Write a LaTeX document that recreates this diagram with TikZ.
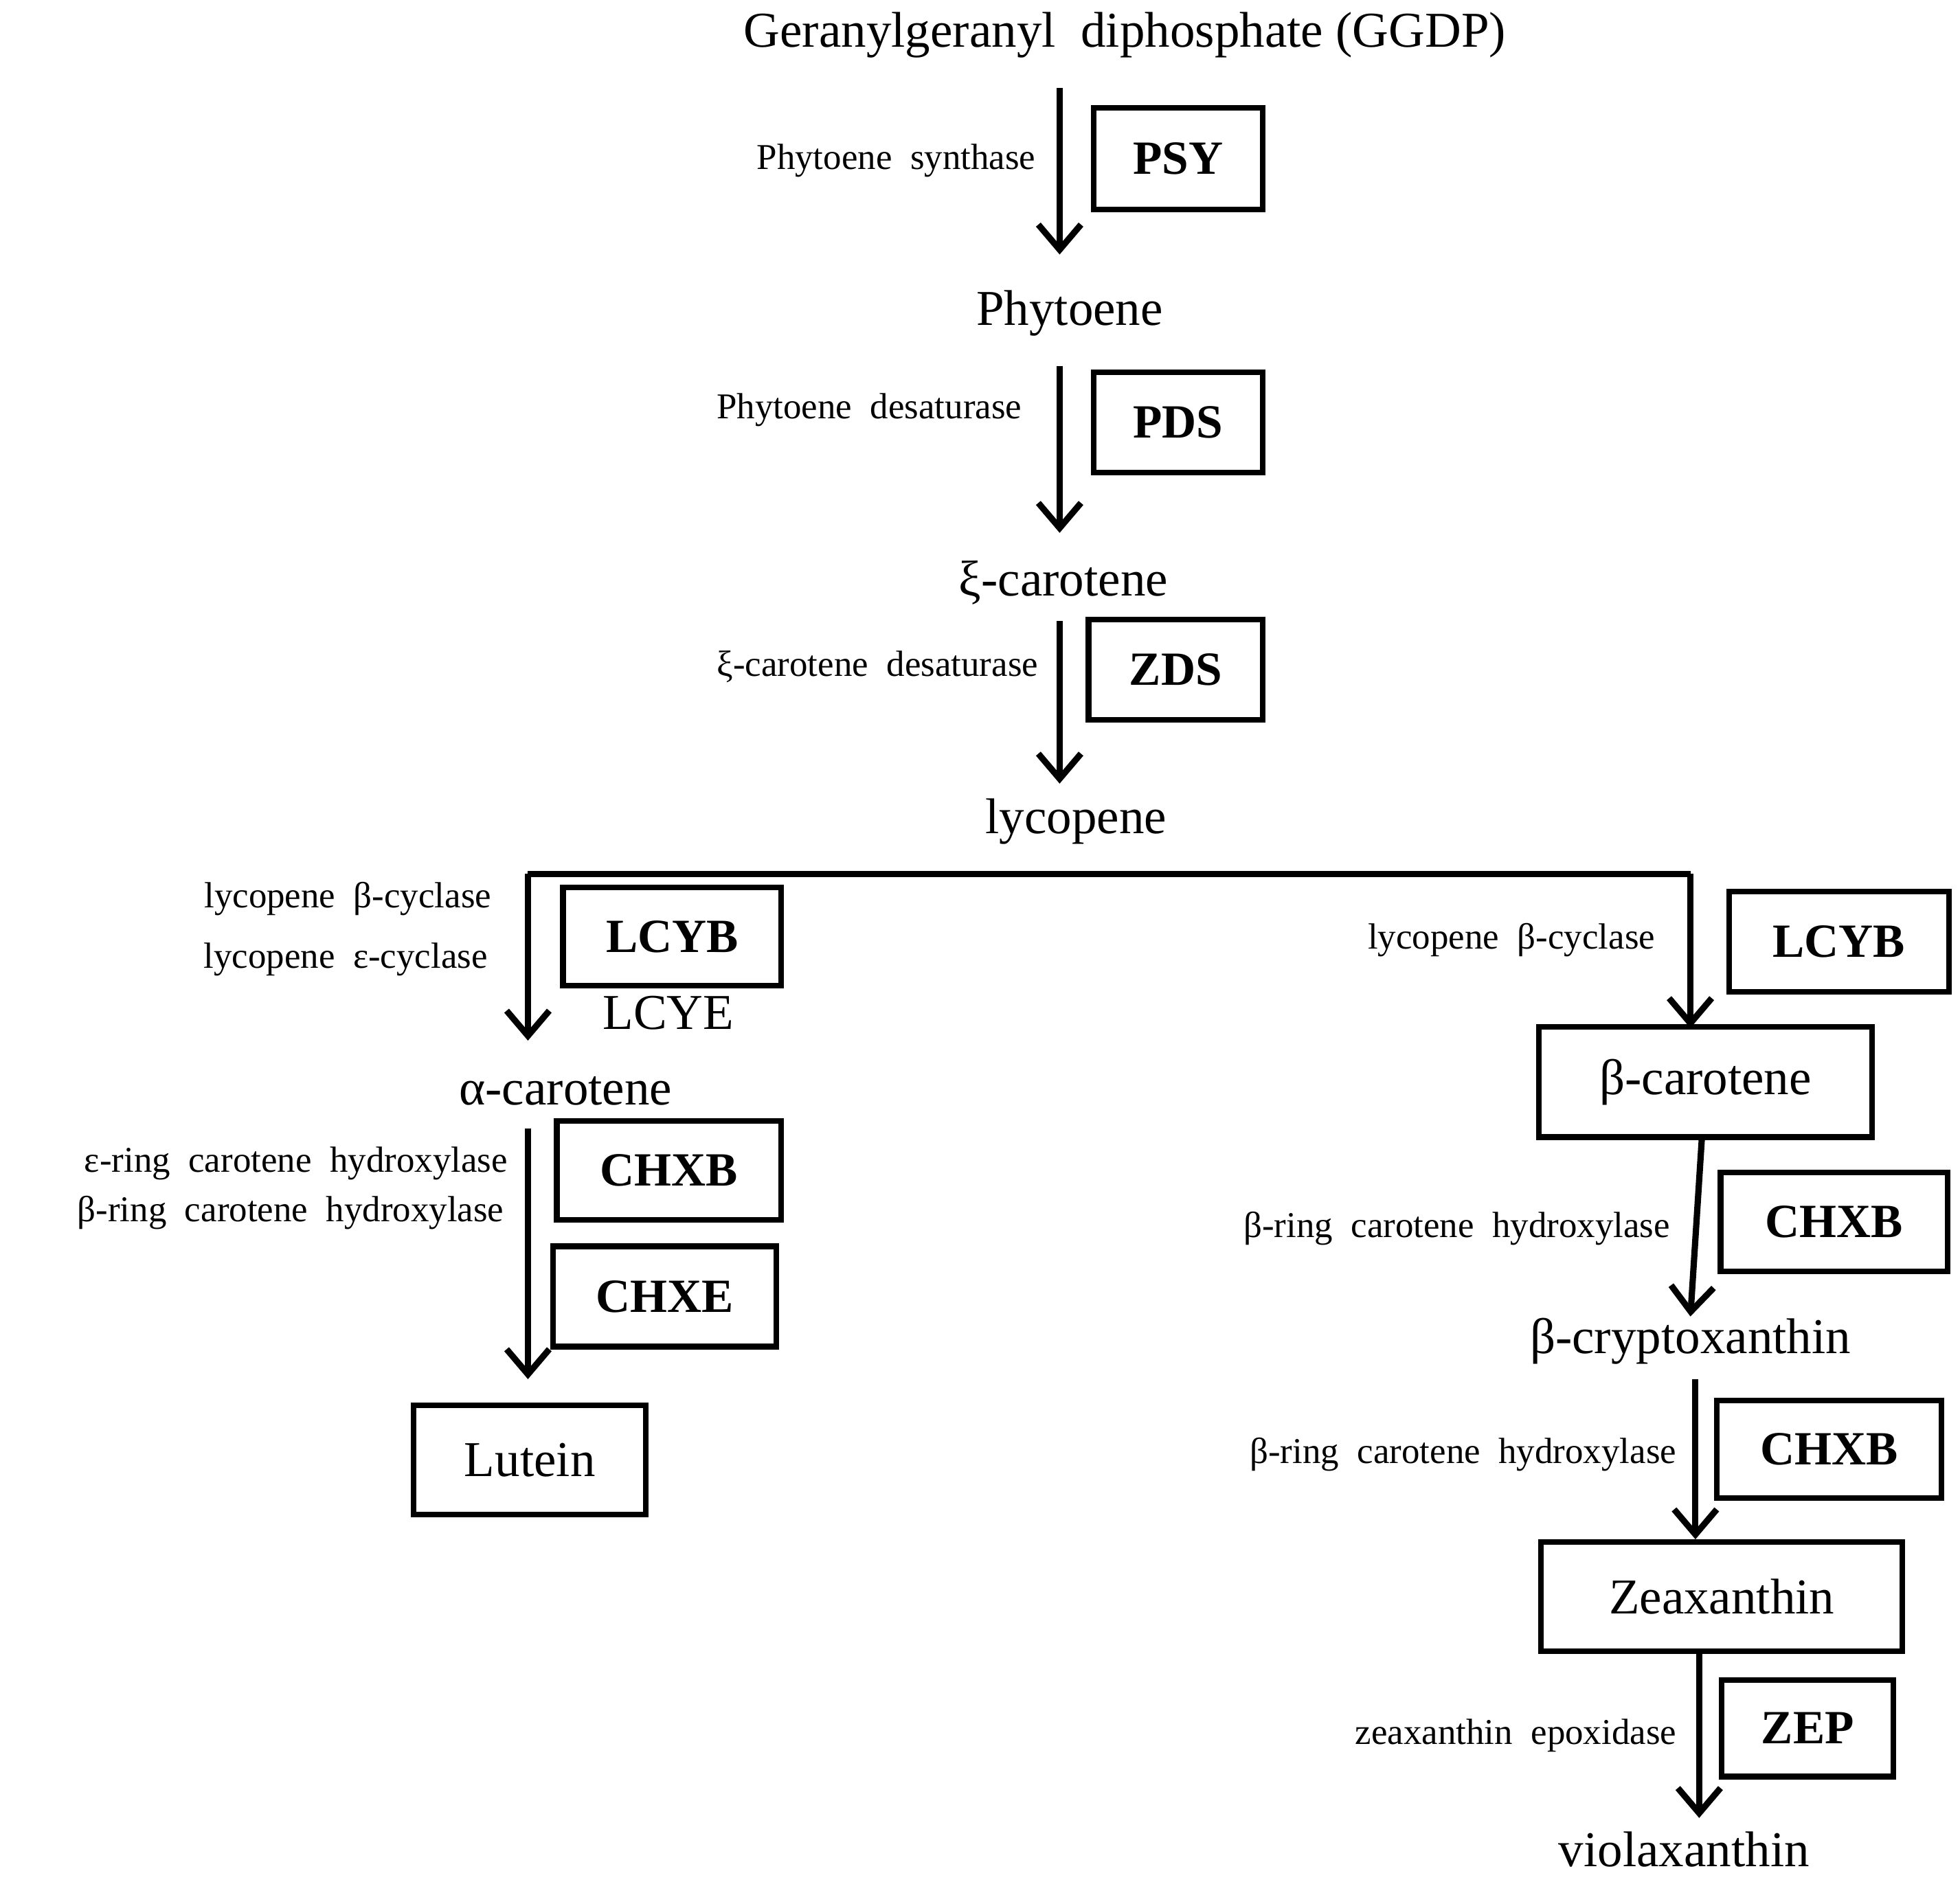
\documentclass[tikz,border=0pt]{standalone}
\usepackage{fontspec}
\setmainfont{Liberation Serif}
\usetikzlibrary{arrows.meta}
\begin{document}
\begin{tikzpicture}[x=1pt,y=-1pt,
  big/.style={font=\fontsize{40}{44}\selectfont, inner sep=0pt},
  lab/.style={font=\fontsize{29}{32}\selectfont, inner sep=0pt, anchor=east},
  enz/.style={draw, line width=4.5pt, font=\fontsize{38}{42}\selectfont\bfseries, inner sep=0pt},
  prod/.style={draw, line width=4.5pt, font=\fontsize{40}{44}\selectfont, inner sep=0pt},
  arr/.style={line width=5pt, -{Straight Barb[length=20pt,width=34pt,line width=5pt]}}]
\useasboundingbox (0,0) rectangle (1563,1501);
\node[big] (ggdp) at (897,28) {Geranylgeranyl\ \ diphosphate (GGDP)};
\coordinate (a1s) at (845,70); \coordinate (a1e) at (845,203);
\draw[arr] (a1s) -- (a1e);
\node[enz, minimum width=135pt, minimum height=81pt] (psy) at (939.5,126.5) {PSY};
\node[lab] (l1) at (826,128) {Phytoene\ \ synthase};
\node[big] (phy) at (853,250) {Phytoene};
\coordinate (a2s) at (845,292); \coordinate (a2e) at (845,425);
\draw[arr] (a2s) -- (a2e);
\node[enz, minimum width=135pt, minimum height=80pt] (pds) at (939.5,337) {PDS};
\node[lab] (l2) at (815,327) {Phytoene\ \ desaturase};
\node[big] (xi) at (848,465) {ξ-carotene};
\coordinate (a3s) at (845,495); \coordinate (a3e) at (845,625);
\draw[arr] (a3s) -- (a3e);
\node[enz, minimum width=139pt, minimum height=80pt] (zds) at (937.5,534) {ZDS};
\node[lab] (l3) at (828,532) {ξ-carotene\ \ desaturase};
\node[big] (lyc) at (858,655) {lycopene};
\coordinate (hl) at (421,697); \coordinate (hr) at (1348,697);
\coordinate (al) at (421,830); \coordinate (ar) at (1348,820);
\draw[line width=5pt] (hl) -- (hr);
\draw[arr] (hl) -- (al);
\draw[arr] (hr) -- (ar);
\node[enz, minimum width=174pt, minimum height=78pt] (lcyb1) at (536,747) {LCYB};
\node[lab] (l4) at (392,717) {lycopene\ \ β-cyclase};
\node[lab] (l5) at (389,765) {lycopene\ \ ε-cyclase};
\node[big] (lcye) at (533,808) {LCYE};
\node[lab] (l6) at (1320,750) {lycopene\ \ β-cyclase};
\node[enz, minimum width=175pt, minimum height=80pt] (lcyb2) at (1466.5,751) {LCYB};
\node[big] (ac) at (451,870) {α-carotene};
\node[prod, minimum width=266pt, minimum height=88pt] (bc) at (1360,863) {β-carotene};
\coordinate (a5s) at (421,900); \coordinate (a5e) at (421,1100);
\draw[arr] (a5s) -- (a5e);
\node[enz, minimum width=179pt, minimum height=79pt] (chxb1) at (533.5,933.5) {CHXB};
\node[enz, minimum width=178pt, minimum height=80pt] (chxe) at (530,1034) {CHXE};
\node[lab] (l7) at (405,928) {ε-ring\ \ carotene\ \ hydroxylase};
\node[lab] (l8) at (402,967) {β-ring\ \ carotene\ \ hydroxylase};
\node[prod, minimum width=185pt, minimum height=87pt] (lut) at (422.5,1164.5) {Lutein};
\coordinate (a6e) at (1348,1050);
\draw[arr] (bc) -- (a6e);
\node[enz, minimum width=181pt, minimum height=79pt] (chxb2) at (1462.5,974.5) {CHXB};
\node[lab] (l9) at (1332,980) {β-ring\ \ carotene\ \ hydroxylase};
\node[big] (bcx) at (1348,1070) {β-cryptoxanthin};
\node[prod, minimum width=288pt, minimum height=87pt] (zea) at (1373,1273.5) {Zeaxanthin};
\coordinate (a7s) at (1352,1100);
\draw[arr] (a7s) -- (zea.north -| a7s);
\node[enz, minimum width=179pt, minimum height=78pt] (chxb3) at (1458.5,1156) {CHXB};
\node[lab] (l10) at (1337,1160) {β-ring\ \ carotene\ \ hydroxylase};
\coordinate (a8s) at (1355,1317); \coordinate (a8e) at (1355,1450);
\draw[arr] (a8s) -- (a8e);
\node[enz, minimum width=137pt, minimum height=77pt] (zep) at (1441.5,1378.5) {ZEP};
\node[lab] (l11) at (1337,1384) {zeaxanthin\ \ epoxidase};
\node[big] (vio) at (1343,1475) {violaxanthin};
\end{tikzpicture}
\end{document}
